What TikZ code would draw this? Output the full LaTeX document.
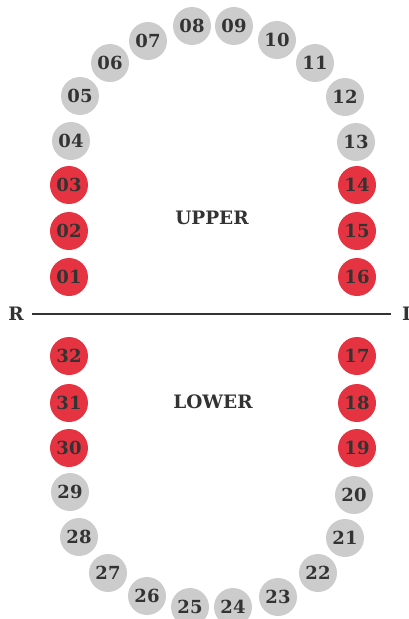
\documentclass[tikz,border=0pt]{standalone}
\usepackage{fontspec}
\setmainfont{DejaVu Serif}
\definecolor{toothgray}{HTML}{CCCCCC}
\definecolor{toothred}{HTML}{E63341}
\definecolor{ink}{HTML}{333333}
\begin{document}
\begin{tikzpicture}[x=1pt,y=-1pt,
  tooth/.style={circle,fill=toothgray,minimum size=38pt,inner sep=0pt,text=ink,font=\fontsize{18}{18}\selectfont\bfseries},
  sel/.style={tooth,fill=toothred},
  lbl/.style={text=ink,font=\fontsize{18.5}{18.5}\selectfont\bfseries,inner sep=0pt}]
\useasboundingbox (0,0) rectangle (409,619);
\clip (0,0) rectangle (409,619);
% upper arch
\node[sel]   (t01) at (69,277) {01};
\node[sel]   (t02) at (69,231) {02};
\node[sel]   (t03) at (69,185) {03};
\node[tooth] (t04) at (71,141) {04};
\node[tooth] (t05) at (80,96) {05};
\node[tooth] (t06) at (110,63) {06};
\node[tooth] (t07) at (148,41) {07};
\node[tooth] (t08) at (192,26) {08};
\node[tooth] (t09) at (234,26) {09};
\node[tooth] (t10) at (277,40) {10};
\node[tooth] (t11) at (315,63) {11};
\node[tooth] (t12) at (345,97) {12};
\node[tooth] (t13) at (356,142) {13};
\node[sel]   (t14) at (357,185) {14};
\node[sel]   (t15) at (357,231) {15};
\node[sel]   (t16) at (357,277) {16};
% lower arch
\node[sel]   (t17) at (357,356) {17};
\node[sel]   (t18) at (357,403) {18};
\node[sel]   (t19) at (357,448) {19};
\node[tooth] (t20) at (354,495) {20};
\node[tooth] (t21) at (345,538) {21};
\node[tooth] (t22) at (318,573) {22};
\node[tooth] (t23) at (278,597) {23};
\node[tooth] (t24) at (233,607) {24};
\node[tooth] (t25) at (190,607) {25};
\node[tooth] (t26) at (147,596) {26};
\node[tooth] (t27) at (108,573) {27};
\node[tooth] (t28) at (79,537) {28};
\node[tooth] (t29) at (70,492) {29};
\node[sel]   (t30) at (69,448) {30};
\node[sel]   (t31) at (69,403) {31};
\node[sel]   (t32) at (69,356) {32};
% labels
\node[lbl] (upper) at (212,218) {UPPER};
\node[lbl] (lower) at (213,402) {LOWER};
\node[lbl] (right) at (16,314) {R};
\node[lbl,anchor=west] (left) at (402,314) {L};
\coordinate (la) at (32,314);
\coordinate (lb) at (391,314);
\draw[ink,line width=1.4pt] (la) -- (lb);
\end{tikzpicture}
\end{document}
